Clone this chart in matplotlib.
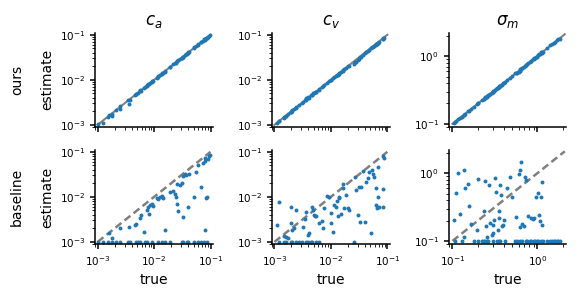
import numpy as np
import matplotlib.pyplot as plt

# ---- c_a ----
true_ca = [1.0e-3, 1.23e-3, 1.51e-3, 1.82e-3, 2.09e-3, 2.5e-3, 3.4e-3, 3.8e-3, 4.7e-3, 5.2e-3,
           5.6e-3, 6.9e-3, 7.6e-3, 9.1e-3, 1.17e-2, 1.38e-2, 1.55e-2, 1.9e-2, 3.1e-2, 3.2e-2,
           3.8e-2, 4.0e-2, 5.2e-2, 5.9e-2, 6.9e-2, 7.8e-2, 8.5e-2,
           1.6e-3, 1.8e-3, 2.5e-3, 3.55e-3, 4.6e-3, 4.8e-3, 5.7e-3, 5.8e-3, 6.6e-3, 7.4e-3,
           7.9e-3, 8.1e-3, 8.5e-3, 9.1e-3, 9.7e-3, 1.11e-2, 1.19e-2, 1.27e-2, 1.37e-2, 1.42e-2,
           1.55e-2, 1.9e-2, 2.2e-2, 2.35e-2, 2.4e-2, 2.6e-2, 2.7e-2, 3.2e-2, 4.0e-2, 2.6e-2,
           2.85e-2, 3.1e-2, 3.2e-2, 3.5e-2, 3.7e-2, 4.2e-2, 5.2e-2, 5.6e-2, 6.0e-2, 6.9e-2,
           7.3e-2, 7.9e-2, 8.1e-2, 8.3e-2, 8.5e-2, 8.9e-2, 9.3e-2, 9.6e-2, 7.9e-2]
base_ca = [1e-3] * 27 + [
           1.6e-3, 1.25e-3, 2.0e-3, 2.1e-3, 2.4e-3, 2.5e-3, 3.4e-3, 4.0e-3, 1.7e-3, 5.1e-3,
           6.1e-3, 4.1e-3, 6.6e-3, 6.9e-3, 6.3e-3, 9.3e-3, 9.0e-3, 9.7e-3, 1.07e-2, 9.3e-3,
           1.85e-3, 1.26e-2, 1.32e-2, 1.15e-2, 9.7e-3, 6.9e-3, 4.9e-3, 3.6e-3, 6.1e-3, 1.9e-2,
           1.85e-2, 2.0e-2, 2.95e-2, 3.2e-2, 3.1e-2, 3.2e-2, 1.02e-2, 3.6e-2, 5.0e-2, 1.7e-2,
           5.6e-2, 6.3e-2, 7.2e-2, 9.3e-3, 1.02e-2, 6.9e-2, 7.9e-2, 8.5e-2, 1.85e-3]
ours_ca = [1.05e-3, 1.1e-3, 1.5e-3, 1.75e-3, 2.1e-3, 2.3e-3, 3.5e-3, 3.6e-3, 4.8e-3, 5.1e-3,
           5.7e-3, 6.8e-3, 7.7e-3, 9.0e-3, 1.15e-2, 1.4e-2, 1.5e-2, 1.95e-2, 3.1e-2, 3.25e-2,
           3.7e-2, 4.1e-2, 5.0e-2, 6.0e-2, 6.8e-2, 7.9e-2, 8.4e-2,
           1.65e-3, 1.6e-3, 2.6e-3, 2.9e-3, 4.5e-3, 4.9e-3, 5.8e-3, 5.6e-3, 6.7e-3, 7.3e-3,
           8.0e-3, 8.1e-3, 8.6e-3, 9.3e-3, 9.6e-3, 1.12e-2, 1.2e-2, 1.26e-2, 1.36e-2, 1.45e-2,
           1.58e-2, 1.88e-2, 2.2e-2, 2.4e-2, 2.35e-2, 2.6e-2, 2.7e-2, 3.2e-2, 4.0e-2, 2.65e-2,
           2.9e-2, 3.0e-2, 3.15e-2, 3.5e-2, 3.75e-2, 4.2e-2, 5.3e-2, 5.5e-2, 6.1e-2, 7.0e-2,
           7.2e-2, 7.8e-2, 8.2e-2, 8.3e-2, 8.6e-2, 8.8e-2, 9.4e-2, 9.7e-2, 8.0e-2]

# ---- c_v ----
true_cv = [1.23e-3, 1.47e-3, 1.6e-3, 1.93e-3, 2.07e-3, 2.4e-3, 2.7e-3, 3.03e-3, 3.7e-3, 4.0e-3,
           4.4e-3, 4.7e-3, 5.4e-3, 6.2e-3, 2.6e-2,
           1.12e-3, 1.23e-3, 1.47e-3, 1.6e-3, 1.75e-3, 1.93e-3, 1.95e-3, 2.07e-3, 2.2e-3, 2.4e-3,
           3.2e-3, 3.5e-3, 3.7e-3, 4.0e-3, 4.1e-3, 4.7e-3, 5.0e-3, 5.2e-3, 5.5e-3, 4.9e-3,
           6.2e-3, 6.9e-3, 7.3e-3, 7.6e-3, 8.7e-3, 9.3e-3, 1.0e-2, 1.0e-2, 1.07e-2, 1.15e-2,
           1.23e-2, 1.32e-2, 1.26e-2, 1.38e-2, 1.41e-2, 1.51e-2, 1.66e-2, 1.62e-2, 1.74e-2, 1.86e-2,
           2.0e-2, 2.1e-2, 2.7e-2, 2.8e-2, 3.0e-2, 3.2e-2, 3.4e-2, 3.3e-2, 3.7e-2, 4.0e-2,
           4.2e-2, 4.5e-2, 4.8e-2, 5.2e-2, 5.4e-2, 5.6e-2, 5.7e-2, 6.2e-2, 6.3e-2, 6.5e-2,
           6.8e-2, 6.7e-2, 7.1e-2, 8.3e-2, 8.4e-2, 8.9e-2, 8.5e-2]
base_cv = [1e-3] * 15 + [
           2.4e-3, 7.6e-3, 1.38e-3, 1.31e-3, 1.2e-3, 2.6e-3, 6.1e-3, 1.85e-3, 2.0e-3, 5.1e-3,
           2.2e-3, 3.2e-3, 4.7e-3, 1.43e-3, 1.55e-3, 6.1e-3, 4.0e-3, 3.85e-3, 3.85e-3, 5.1e-3,
           2.7e-3, 2.9e-3, 2.0e-3, 5.6e-3, 1.07e-2, 9.7e-3, 2.6e-3, 4.3e-3, 1.64e-3, 6.6e-3,
           6.1e-3, 3.85e-3, 8.1e-3, 1.0e-2, 9.3e-3, 4.1e-3, 1.6e-2, 1.9e-2, 5.8e-3, 1.1e-2,
           5.6e-3, 5.1e-3, 2.7e-2, 1.43e-2, 4.0e-3, 1.7e-2, 1.7e-2, 2.8e-3, 3.8e-2, 2.8e-3,
           2.1e-2, 2.6e-2, 3.6e-2, 1.55e-3, 4.0e-2, 3.2e-2, 2.8e-2, 1.6e-2, 6.6e-3, 5.6e-3,
           1.0e-2, 4.7e-2, 6.1e-3, 1.5e-2, 6.1e-3, 7.2e-2, 7.9e-2]
ours_cv = [1.2e-3, 1.5e-3, 1.6e-3, 1.9e-3, 2.1e-3, 2.4e-3, 2.7e-3, 3.1e-3, 3.9e-3, 4.0e-3,
           4.5e-3, 4.7e-3, 5.4e-3, 6.3e-3, 2.2e-2,
           1.1e-3, 1.25e-3, 1.45e-3, 1.6e-3, 1.75e-3, 1.95e-3, 1.9e-3, 2.05e-3, 2.2e-3, 2.45e-3,
           3.2e-3, 3.5e-3, 3.6e-3, 4.2e-3, 4.0e-3, 4.6e-3, 5.0e-3, 5.3e-3, 5.4e-3, 5.0e-3,
           6.1e-3, 7.0e-3, 7.2e-3, 7.6e-3, 8.6e-3, 9.4e-3, 1.0e-2, 9.8e-3, 1.08e-2, 1.14e-2,
           1.24e-2, 1.3e-2, 1.28e-2, 1.4e-2, 1.38e-2, 1.5e-2, 1.6e-2, 1.63e-2, 1.72e-2, 1.8e-2,
           2.0e-2, 2.0e-2, 2.45e-2, 2.55e-2, 2.7e-2, 2.9e-2, 3.2e-2, 3.15e-2, 3.6e-2, 3.9e-2,
           4.1e-2, 4.4e-2, 4.7e-2, 5.1e-2, 5.3e-2, 5.4e-2, 5.6e-2, 6.0e-2, 6.1e-2, 6.3e-2,
           6.6e-2, 6.5e-2, 6.9e-2, 8.0e-2, 8.2e-2, 8.6e-2, 8.3e-2]

# ---- sigma_m ----
true_sm = [0.107, 0.129, 0.177, 0.202, 0.221, 0.232, 0.242, 0.254, 0.265, 0.30,
           0.33, 0.35, 0.36, 0.42, 0.55, 0.57, 0.62, 0.65, 0.74, 0.76,
           0.82, 0.85, 0.90, 0.94, 0.98, 1.02, 1.10, 1.17, 1.29, 1.41,
           1.48, 1.55, 1.62, 1.70, 1.77, 1.85,
           0.105, 0.110, 0.117, 0.123, 0.135, 0.137, 0.141, 0.154, 0.158, 0.164,
           0.193, 0.202, 0.232, 0.242, 0.249, 0.254, 0.272, 0.277, 0.29, 0.298,
           0.30, 0.309, 0.316, 0.327, 0.339, 0.35, 0.357, 0.36, 0.37, 0.38,
           0.39, 0.405, 0.444, 0.48, 0.50, 0.56, 0.60, 0.62, 0.63, 0.64,
           0.65, 0.69, 0.72, 0.74, 0.78, 0.83, 0.88, 0.92, 0.97, 1.02,
           1.05, 1.06, 1.10, 1.12, 1.13]
base_sm = [0.1] * 36 + [
           0.206, 0.51, 1.02, 0.25, 1.12, 0.116, 0.61, 0.685, 0.325, 0.178,
           0.146, 0.83, 0.28, 0.77, 0.167, 0.116, 0.67, 0.184, 0.123, 0.13,
           0.174, 0.206, 0.86, 0.53, 0.146, 0.218, 0.274, 0.67, 0.47, 0.167,
           0.174, 0.206, 0.60, 0.89, 0.44, 0.223, 0.97, 0.159, 1.11, 1.44,
           0.178, 0.167, 0.89, 0.785, 0.231, 0.218, 0.214, 0.218, 0.44, 0.51,
           0.239, 0.195, 0.44, 0.75, 0.174]
ours_sm = [0.105, 0.127, 0.18, 0.20, 0.225, 0.23, 0.245, 0.25, 0.27, 0.30,
           0.335, 0.345, 0.365, 0.42, 0.56, 0.57, 0.61, 0.66, 0.73, 0.77,
           0.83, 0.85, 0.91, 0.95, 0.97, 1.04, 1.12, 1.15, 1.30, 1.45,
           1.50, 1.57, 1.60, 1.72, 1.78, 1.80,
           0.103, 0.11, 0.118, 0.122, 0.137, 0.136, 0.14, 0.155, 0.157, 0.165,
           0.195, 0.20, 0.235, 0.24, 0.25, 0.255, 0.27, 0.28, 0.29, 0.30,
           0.305, 0.31, 0.32, 0.325, 0.34, 0.355, 0.36, 0.36, 0.375, 0.38,
           0.395, 0.40, 0.45, 0.48, 0.51, 0.56, 0.59, 0.62, 0.64, 0.65,
           0.66, 0.70, 0.71, 0.75, 0.80, 0.85, 0.90, 0.94, 0.98, 1.05,
           1.06, 1.08, 1.14, 1.13, 1.16]

titles = ["$c_a$", "$c_v$", r"$\sigma_m$"]
rows = ["ours", "baseline"]
limits = [(0.9e-3, 1.1e-1), (0.9e-3, 1.1e-1), (0.09, 2.2)]
diagonals = [(1e-3, 1e-1), (1e-3, 1e-1), (0.1, 2.1)]

plt.rcParams["axes.linewidth"] = 1.1
plt.rcParams["xtick.major.width"] = 1.1
plt.rcParams["ytick.major.width"] = 1.1
plt.rcParams["xtick.labelsize"] = 7.5
plt.rcParams["ytick.labelsize"] = 7.5

fig, axes = plt.subplots(2, 3, figsize=(5.81, 3.02), dpi=100, sharex="col")
fig.subplots_adjust(left=0.1635, right=0.975, bottom=0.192, top=0.891, wspace=0.5, hspace=0.245)

trues = [true_ca, true_cv, true_sm]
ests = [[ours_ca, ours_cv, ours_sm], [base_ca, base_cv, base_sm]]

for r in range(2):
    for c in range(3):
        ax = axes[r, c]
        d = diagonals[c]
        if r == 0:
            ax.plot(d, d, color="gray", lw=1.5, zorder=1)
        else:
            ax.plot(d, d, color="gray", lw=1.8, ls=(0, (3, 1.6)), zorder=1)
        ax.scatter(trues[c], ests[r][c], s=8, color="#1f77b4", linewidths=0, zorder=2)
        ax.set_xscale("log")
        ax.set_yscale("log")
        ax.set_xlim(limits[c])
        ax.set_ylim(limits[c])
        ax.spines["top"].set_visible(False)
        ax.spines["right"].set_visible(False)
        if r == 0:
            ax.set_title(titles[c], fontsize=12)
        else:
            ax.set_xlabel("true", fontsize=10)
    axes[r, 0].set_ylabel("estimate", fontsize=10)

fig.text(17 / 581, 0.735, rows[0], rotation=90, fontsize=10, ha="center", va="center")
fig.text(17 / 581, 0.348, rows[1], rotation=90, fontsize=10, ha="center", va="center")

fig.savefig("out.png", dpi=100)
